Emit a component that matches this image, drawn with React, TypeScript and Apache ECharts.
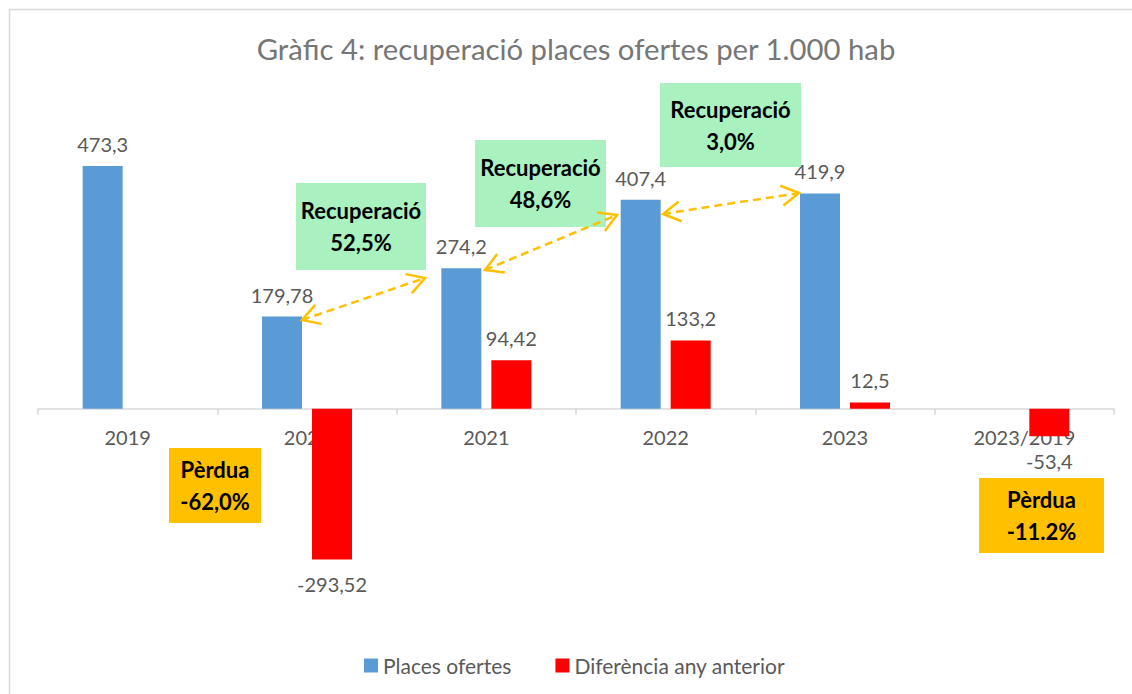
import React, { useEffect, useRef } from 'react';
import * as echarts from 'echarts';

const categories = ['2019', '2020', '2021', '2022', '2023', '2023/2019'];
const placesOfertes: (number | null)[] = [473.3, 179.78, 274.2, 407.4, 419.9, null];
const diferencia: (number | null)[] = [null, -293.52, 94.42, 133.2, 12.5, -53.4];
const seriesNames = ['Places ofertes', 'Diferència any anterior'];
const recuperacioLabels = ['52,5%', '48,6%', '3,0%'];
const perduaLabels = ['-62,0%', '-11.2%'];
const titleText = 'Gràfic 4: recuperació places ofertes per 1.000 hab';

const FONT = 'Lato, "Noto Sans", sans-serif';
const GRAY = '#595959';
const ARROW = '#FFC000';

const Y_MIN = -400;
const Y_MAX = 600;
const GRID_TOP = 101;
const GRID_BOTTOM = 80;
const H = 694;

const fmt = (v: number) => String(v).replace('.', ',');

function arrowEls(x1: number, y1: number, x2: number, y2: number) {
  const ang = Math.atan2(y2 - y1, x2 - x1);
  const L = 20;
  const a = Math.PI / 6;
  const head = (tx: number, ty: number, dir: number) => ({
    type: 'polyline',
    z: 110,
    shape: {
      points: [
        [tx + L * Math.cos(dir - a), ty + L * Math.sin(dir - a)],
        [tx, ty],
        [tx + L * Math.cos(dir + a), ty + L * Math.sin(dir + a)],
      ],
    },
    style: { stroke: ARROW, lineWidth: 2.5, fill: null },
  });
  return [
    {
      type: 'line',
      z: 110,
      shape: { x1, y1, x2, y2 },
      style: { stroke: ARROW, lineWidth: 2.5, lineDash: [8, 5] },
    },
    head(x1, y1, ang),
    head(x2, y2, ang + Math.PI),
  ];
}

function boxEl(x: number, y: number, w: number, h: number, fill: string, lines: string[]) {
  return {
    type: 'group',
    z: 100,
    children: [
      { type: 'rect', z: 100, shape: { x, y, width: w, height: h }, style: { fill } },
      {
        type: 'text',
        z: 101,
        x: x + w / 2,
        y: y + h / 2,
        style: {
          text: lines.join('\n'),
          fill: '#000',
          font: `bold 22px ${FONT}`,
          lineHeight: 32,
          align: 'center',
          verticalAlign: 'middle',
        },
      },
    ],
  };
}

export default function App() {
  const ref = useRef<HTMLDivElement>(null);
  useEffect(() => {
    if (!ref.current) return;
    const chart = echarts.init(ref.current, undefined, { renderer: 'svg' });
    const labelStyle = { color: GRAY, fontSize: 20, fontFamily: FONT };
    const gridH = H - GRID_TOP - GRID_BOTTOM;
    const zeroOffset = -(gridH * (0 - Y_MIN)) / (Y_MAX - Y_MIN);
    const option: any = {
      animation: false,
      backgroundColor: '#fff',
      title: {
        text: titleText,
        left: 576,
        top: 34,
        padding: 0,
        textAlign: 'center',
        textStyle: { fontSize: 29.3, fontWeight: 'normal', color: '#767676', fontFamily: FONT },
      },
      legend: {
        data: seriesNames,
        left: 364,
        top: 655,
        padding: 0,
        itemWidth: 14,
        itemHeight: 14,
        itemGap: 44,
        icon: 'rect',
        textStyle: { color: GRAY, fontSize: 21, fontFamily: FONT },
      },
      grid: { left: 38, right: 18, top: GRID_TOP, bottom: GRID_BOTTOM },
      xAxis: {
        type: 'category',
        data: categories,
        offset: zeroOffset,
        axisLine: { onZero: false, lineStyle: { color: '#D9D9D9', width: 1.5 } },
        axisTick: { show: true, length: 6, lineStyle: { color: '#D9D9D9', width: 1.5 } },
        axisLabel: { ...labelStyle, margin: 18 },
        splitLine: { show: false },
      },
      yAxis: {
        type: 'value',
        min: Y_MIN,
        max: Y_MAX,
        show: false,
        splitLine: { show: false },
      },
      series: [
        {
          name: seriesNames[0],
          type: 'bar',
          barWidth: 40,
          barGap: '25%',
          itemStyle: { color: '#5B9BD5' },
          data: placesOfertes.map((v) => (v == null ? '-' : v)),
          label: {
            show: true,
            position: 'top',
            distance: 12,
            ...labelStyle,
            formatter: (p: any) => fmt(p.value),
          },
        },
        {
          name: seriesNames[1],
          type: 'bar',
          barWidth: 40,
          barGap: '25%',
          itemStyle: { color: '#FF0000' },
          data: diferencia.map((v) =>
            v == null
              ? '-'
              : { value: v, label: { position: v < 0 ? 'bottom' : 'top', distance: v < 0 ? 15 : 12 } }
          ),
          label: {
            show: true,
            distance: 12,
            ...labelStyle,
            formatter: (p: any) => fmt(p.value),
          },
        },
      ],
      graphic: [
        {
          type: 'rect',
          z: 0,
          shape: { x: 9.5, y: 9.5, width: 1140, height: 700 },
          style: { fill: null, stroke: '#D9D9D9', lineWidth: 1.5 },
        },
        boxEl(296, 183, 130, 87, '#A9F1BE', ['Recuperació', recuperacioLabels[0]]),
        boxEl(475, 140, 131, 87, '#A9F1BE', ['Recuperació', recuperacioLabels[1]]),
        boxEl(660, 83, 141, 84, '#A9F1BE', ['Recuperació', recuperacioLabels[2]]),
        boxEl(169, 448, 92, 75, '#FFC000', ['Pèrdua', perduaLabels[0]]),
        boxEl(979, 478, 125, 75, '#FFC000', ['Pèrdua', perduaLabels[1]]),
        ...arrowEls(302, 320, 425, 278),
        ...arrowEls(485, 270, 617, 215),
        ...arrowEls(663, 214, 799, 193),
      ],
    };
    chart.setOption(option);
    return () => chart.dispose();
  }, []);
  return (
    <div
      ref={ref}
      style={{ position: 'fixed', left: 0, top: 0, width: 1132, height: 694 }}
    />
  );
}
